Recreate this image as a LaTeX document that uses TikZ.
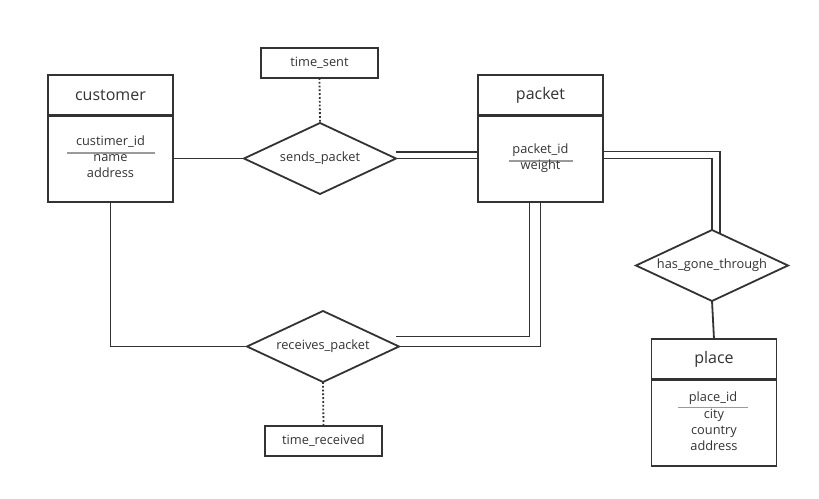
\documentclass[tikz,border=0pt]{standalone}
\usepackage{fontspec}
\setmainfont{Open Sans}
\usetikzlibrary{calc,positioning,shapes.geometric}
\definecolor{erline}{HTML}{333333}
\definecolor{keygray}{HTML}{9A9A9A}
\tikzset{
    enthead/.style={
        draw=erline,
        line width=1.8pt,
        minimum width=125pt,
        minimum height=40pt,
        inner sep=0pt,
        outer sep=0pt,
        text=erline,
        font=\fontsize{16}{19}\selectfont
    },
    entbody/.style={
        draw=erline,
        line width=1.8pt,
        minimum width=125pt,
        inner sep=0pt,
        outer sep=0pt
    },
    % relationship diamonds
    relation/.style={
        diamond,
        aspect=2.14,
        draw=erline,
        line width=1.8pt,
        minimum width=152pt,
        minimum height=71pt,
        inner sep=0pt,
        outer sep=0pt,
        text=erline,
        font=\fontsize{12.8}{15}\selectfont
    },
    attrbox/.style={
        draw=erline,
        line width=1.8pt,
        minimum width=117pt,
        minimum height=30pt,
        inner sep=0pt,
        outer sep=0pt,
        text=erline,
        font=\fontsize{12.8}{15}\selectfont
    },
    attr/.style={
        text=erline,
        align=center,
        inner sep=0pt,
        font=\fontsize{12.8}{16}\selectfont
    },
    conn/.style={draw=erline, line width=1.8pt},
    divider/.style={draw=erline, line width=3pt},
    keyline/.style={draw=keygray, line width=1.5pt}
}
\begin{document}
\begin{tikzpicture}[x=1pt,y=-1pt]
    \useasboundingbox[fill=white] (0,0) rectangle (819,498);

    % entities
    \node[enthead] (chead) at (110.5,95) {customer};
    \node[entbody, minimum height=87pt, anchor=north] (cbody) at (chead.south) {};
    \draw[divider] (chead.south west) -- (chead.south east);
    \node[attr] (cpk) at (110.5,142) {custimer\_id};
    \draw[keyline] ($(cpk.center)+(-44,11)$) -- ($(cpk.center)+(44,11)$);
    \node[attr] (cattr) at (110.5,166) {name\\address};

    \node[enthead] (phead) at (540.5,95) {packet};
    \node[entbody, minimum height=87pt, anchor=north] (pbody) at (phead.south) {};
    \draw[divider] (phead.south west) -- (phead.south east);
    \node[attr] (ppk) at (540.5,150) {packet\_id};
    \draw[keyline] ($(ppk.center)+(-32,11)$) -- ($(ppk.center)+(32,11)$);
    \node[attr] (pattr) at (540.5,166) {weight};

    \node[enthead] (lhead) at (714,359) {place};
    \node[entbody, minimum height=87pt, anchor=north] (lbody) at (lhead.south) {};
    \draw[divider] (lhead.south west) -- (lhead.south east);
    \node[attr] (lpk) at (713,398) {place\_id};
    \draw[keyline] ($(lpk.center)+(-35,9.5)$) -- ($(lpk.center)+(35,9.5)$);
    \node[attr] (lattr) at (714,430) {city\\country\\address};

    % relationships
    \node[relation] (sp) at (320,158.5) {sends\_packet};
    \node[relation] (rp) at (323,346.5) {receives\_packet};
    \node[relation] (hg) at (712,265.5) {has\_gone\_through};

    % relationship attributes
    \node[attrbox] (ts) at (319.5,63) {time\_sent};
    \node[attrbox] (tr) at (323.5,441) {time\_received};
    \draw[conn, dotted] (ts.south) -- (sp.north);
    \draw[conn, dotted] (rp.south) -- (tr.north);

    % connectors
    \draw[conn] (cbody.east) -- (sp.west);
    \draw[conn] (cbody.south) |- (rp.west);
    \draw[conn] ($(sp.east)+(0,-6.5)$) -- ($(pbody.west)+(0,-6.5)$);
    \draw[conn] (sp.east) -- (pbody.west);
    \draw[conn] ($(pbody.east)+(0,-7)$) -| ($(hg.north)+(8,3.7)$);
    \draw[conn] (pbody.east) -| (hg.north);
    \draw[conn] (rp.east) -| (pbody.south);
    \draw[conn] ($(rp.east)+(-3,-10)$) -| ($(pbody.south)+(-11,0)$);
    \draw[conn] (hg.south) -- (lhead.north);
\end{tikzpicture}
\end{document}
